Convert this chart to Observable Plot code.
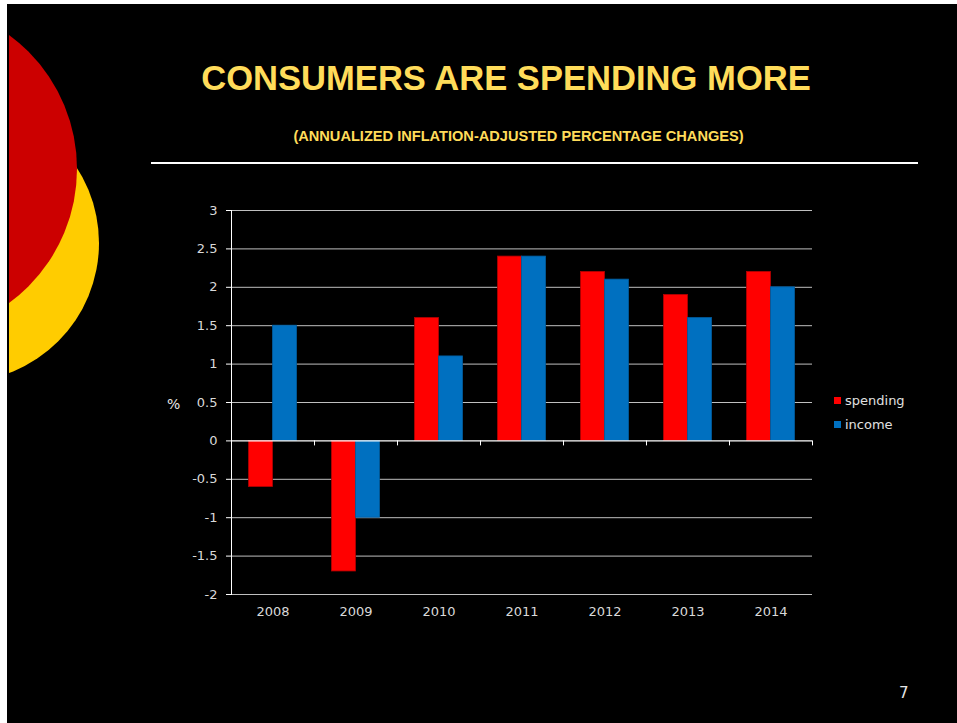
<!DOCTYPE html>
<html>
<head>
<meta charset="utf-8">
<script src="https://cdn.jsdelivr.net/npm/d3@7"></script>
<script src="https://cdn.jsdelivr.net/npm/@observablehq/plot@0.6"></script>
<style>
  html, body { margin: 0; padding: 0; background: #fff; }
  body { width: 957px; height: 723px; position: relative; overflow: hidden; font-family: "DejaVu Sans", sans-serif; }
  #slide { position: absolute; left: 7px; top: 4px; width: 950px; height: 719px; background: #000; }
  #deco { position: absolute; left: 9px; top: 0; width: 200px; height: 723px; overflow: hidden; }
  .circ { position: absolute; border-radius: 50%; }
  #title { position: absolute; left: 0; width: 1012px; top: 61px; text-align: center; font-family: "Liberation Sans", Arial, sans-serif; font-weight: bold; font-size: 34.6px; color: #FFDC5A; white-space: nowrap; line-height: 1; }
  #subtitle { position: absolute; left: 0; width: 1037px; top: 129px; text-align: center; font-family: "Liberation Sans", Arial, sans-serif; font-weight: bold; font-size: 14.6px; color: #FFDC5A; white-space: nowrap; line-height: 1; }
  #hr { position: absolute; left: 151px; top: 162px; width: 767px; height: 2px; background: #fff; }
  #chart { position: absolute; left: 150px; top: 190px; }
  #pct { position: absolute; left: 167px; top: 397px; font-size: 14px; color: #e6e6e6; line-height: 1; }
  .leg { position: absolute; left: 834px; font-size: 13px; color: #e0e0e0; line-height: 1; white-space: nowrap; }
  .leg span { display: inline-block; width: 7px; height: 7px; margin-right: 4px; vertical-align: 1px; }
  #page { position: absolute; left: 899px; top: 686px; font-size: 15px; color: #e6e6e6; line-height: 1; }
</style>
</head>
<body>
<div id="slide"></div>
<div id="deco">
  <div class="circ" style="left:-188px; top:104px; width:278px; height:278px; background:#FFCC00;"></div>
  <div class="circ" style="left:-264px; top:3px; width:332px; height:332px; background:#CC0000;"></div>
</div>
<div id="title">CONSUMERS ARE SPENDING MORE</div>
<div id="subtitle">(ANNUALIZED INFLATION-ADJUSTED PERCENTAGE CHANGES)</div>
<div id="hr"></div>
<div id="chart"></div>
<div id="pct">%</div>
<div id="legend"></div>
<div id="page">7</div>
<script>
const years = ["2008", "2009", "2010", "2011", "2012", "2013", "2014"];
const spending = [-0.6, -1.7, 1.6, 2.4, 2.2, 1.9, 2.2];
const income = [1.5, -1.0, 1.1, 2.4, 2.1, 1.6, 2.0];
const seriesNames = ["spending", "income"];
const seriesColors = ["#FF0000", "#0070C0"];
const yTicks = [-2, -1.5, -1, -0.5, 0, 0.5, 1, 1.5, 2, 2.5, 3];

const W = 680, H = 440, mL = 81, mR = 18, mT = 20, mB = 36;
const step = (W - mL - mR) / years.length;
const barW = 24;

const spendData = years.map((y, i) => ({year: y, value: spending[i]}));
const incomeData = years.map((y, i) => ({year: y, value: income[i]}));

const chart = Plot.plot({
  width: W, height: H,
  marginLeft: mL, marginRight: mR, marginTop: mT, marginBottom: mB,
  style: {background: "none", color: "#d9d9d9", fontSize: "13px", fontFamily: "DejaVu Sans, sans-serif"},
  x: {domain: years, type: "band", padding: 0, label: null},
  y: {domain: [yTicks[0], yTicks[yTicks.length - 1]], label: null},
  marks: [
    Plot.ruleY(yTicks.filter(d => d !== 0), {y: d => d, stroke: "#bfbfbf", strokeWidth: 1}),
    Plot.barY(spendData, {x: "year", y: "value", fill: seriesColors[0], stroke: "#b40000", strokeWidth: 0.8,
      insetLeft: step / 2 - barW, insetRight: step / 2}),
    Plot.barY(incomeData, {x: "year", y: "value", fill: seriesColors[1], stroke: "#005c9e", strokeWidth: 0.8,
      insetLeft: step / 2, insetRight: step / 2 - barW}),
    Plot.ruleY([0], {stroke: "#fff", strokeWidth: 1.3}),
    Plot.ruleX(years, {x: d => d, y1: 0, y2: 0, insetBottom: -5, dx: -step / 2, stroke: "#fff"}),
    Plot.ruleX([years[years.length - 1]], {x: d => d, y1: 0, y2: 0, insetBottom: -5, dx: step / 2, stroke: "#fff"}),
    Plot.frame({anchor: "left", stroke: "#fff"}),
    Plot.axisY({ticks: yTicks, tickSize: 5, tickPadding: 9, tickFormat: d => String(d), stroke: "#fff", label: null}),
    Plot.axisX({tickSize: 0, tickPadding: 12, label: null})
  ]
});
document.getElementById("chart").appendChild(chart);

const legend = document.getElementById("legend");
seriesNames.forEach((name, i) => {
  const d = document.createElement("div");
  d.className = "leg";
  d.style.top = (394 + i * 24) + "px";
  d.innerHTML = `<span style="background:${seriesColors[i]}"></span>${name}`;
  legend.appendChild(d);
});
</script>
</body>
</html>
